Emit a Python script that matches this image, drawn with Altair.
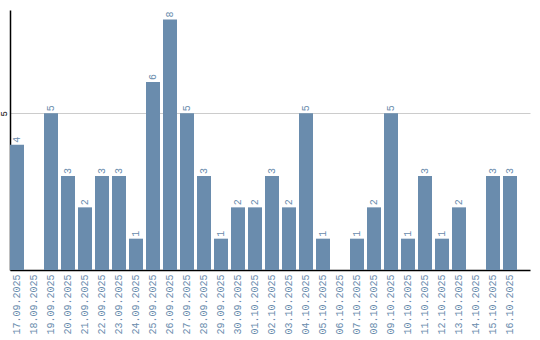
import altair as alt
import pandas as pd

dates = ["17.09.2025", "18.09.2025", "19.09.2025", "20.09.2025", "21.09.2025",
         "22.09.2025", "23.09.2025", "24.09.2025", "25.09.2025", "26.09.2025",
         "27.09.2025", "28.09.2025", "29.09.2025", "30.09.2025", "01.10.2025",
         "02.10.2025", "03.10.2025", "04.10.2025", "05.10.2025", "06.10.2025",
         "07.10.2025", "08.10.2025", "09.10.2025", "10.10.2025", "11.10.2025",
         "12.10.2025", "13.10.2025", "14.10.2025", "15.10.2025", "16.10.2025"]
values = [4, 0, 5, 3, 2, 3, 3, 1, 6, 8, 5, 3, 1, 2, 2, 3, 2, 5, 1, 0,
          1, 2, 5, 1, 3, 1, 2, 0, 3, 3]

df = pd.DataFrame({"date": dates, "value": values})

COLOR = "#6a8cad"
FONT = "Liberation Mono"

x = alt.X("date:N", sort=dates, title=None,
          scale=alt.Scale(paddingInner=0.18, paddingOuter=0, align=0, round=True),
          axis=alt.Axis(labelAngle=-90, ticks=False, labelPadding=4,
                        labelColor=COLOR, labelFont=FONT, labelFontSize=10,
                        domainColor="black", domainWidth=1.5, labelAlign="right",
                        labelBaseline="middle"))
y = alt.Y("value:Q", title=None,
          scale=alt.Scale(domain=[0, 8.3], nice=False),
          axis=alt.Axis(values=[5], ticks=False, labelAngle=-90, labelPadding=2,
                        labelColor="black", labelFont=FONT, labelFontSize=9,
                        domainColor="black", domainWidth=1.5,
                        grid=True, gridColor="#cccccc", gridWidth=1))

bars = alt.Chart(df).mark_bar(color=COLOR).encode(x=x, y=y)
labels = alt.Chart(df).transform_filter("datum.value > 0").mark_text(
    angle=270, align="left", baseline="middle", dx=2,
    font=FONT, fontSize=10, color=COLOR
).encode(x=alt.X("date:N", sort=dates), y="value:Q", text="value:Q")

chart = (bars + labels).properties(
    width=520, height=260,
    background="white",
    autosize=alt.AutoSizeParams(type="none"),
    padding={"left": 10, "top": 10, "right": 10, "bottom": 70},
).configure_view(strokeWidth=0, stroke=None)

chart.save("out.html", embed_options={"renderer": "svg", "actions": False})
